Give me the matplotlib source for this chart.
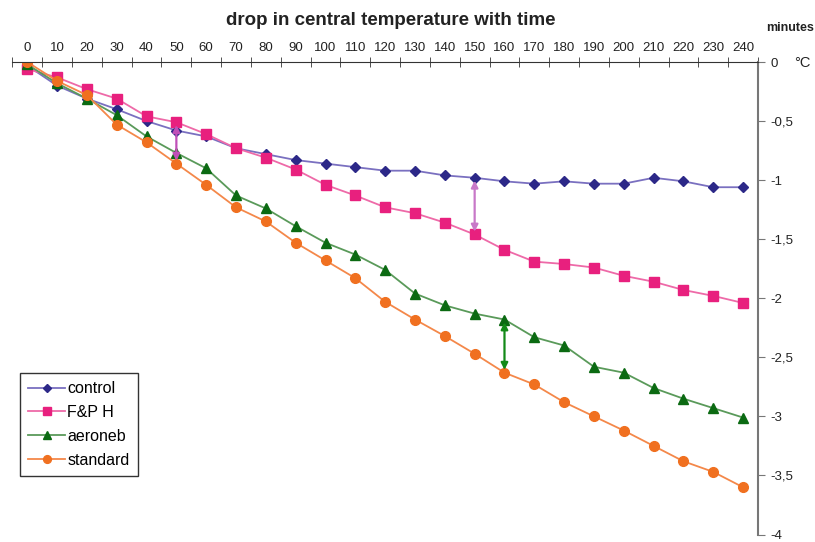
import numpy as np
import matplotlib.pyplot as plt
from matplotlib.ticker import FuncFormatter

plt.rcParams['font.family'] = ['Liberation Sans', 'DejaVu Sans']

minutes = list(range(0, 250, 10))
control = [-0.03, -0.2, -0.31, -0.4, -0.5, -0.58, -0.63, -0.73, -0.78, -0.83, -0.86, -0.89, -0.92,
           -0.92, -0.96, -0.98, -1.01, -1.03, -1.01, -1.03, -1.03, -0.98, -1.01, -1.06, -1.06]
fph = [-0.06, -0.13, -0.23, -0.31, -0.46, -0.51, -0.61, -0.73, -0.81, -0.91, -1.04, -1.13, -1.23,
       -1.28, -1.36, -1.46, -1.59, -1.69, -1.71, -1.74, -1.81, -1.86, -1.93, -1.98, -2.04]
aeroneb = [-0.02, -0.18, -0.31, -0.45, -0.63, -0.77, -0.9, -1.13, -1.24, -1.39, -1.53, -1.63, -1.76,
           -1.96, -2.06, -2.13, -2.18, -2.33, -2.4, -2.58, -2.63, -2.76, -2.85, -2.93, -3.01]
standard = [0.0, -0.16, -0.28, -0.53, -0.68, -0.86, -1.04, -1.23, -1.35, -1.53, -1.68, -1.83, -2.03,
            -2.18, -2.32, -2.47, -2.63, -2.73, -2.88, -3.0, -3.12, -3.25, -3.38, -3.47, -3.6]

series = [
    ("control", control, "D", "#2c2888", "#7a70c0", 5),
    ("F&P H", fph, "s", "#e8207e", "#ee6aa8", 6.5),
    ("aeroneb", aeroneb, "^", "#0b6a12", "#5a9a5a", 6.5),
    ("standard", standard, "o", "#f07020", "#f4884a", 7),
]

fig = plt.figure(figsize=(8.15, 5.42), dpi=100)
ax = fig.add_axes([0.0151, 0.0138, 0.915, 0.8718])

for name, vals, mk, mc, lc, ms in series:
    ax.plot(minutes, vals, color=lc, lw=1.3, marker=mk, markersize=ms,
            markerfacecolor=mc, markeredgecolor=mc, label=name)

# difference arrows
def arrow(i, a, b, color):
    ax.annotate("", xy=(minutes[i], b[i]), xytext=(minutes[i], a[i]),
                arrowprops=dict(arrowstyle="<|-|>", color=color, lw=1.6,
                                mutation_scale=10, shrinkA=2, shrinkB=2))

arrow(5, fph, standard, "#c050b8")
arrow(15, control, fph, "#c878c8")
arrow(16, aeroneb, standard, "#138a18")

ax.set_xlim(-5, 245)
ax.set_ylim(-4, 0)

for s in ["left", "bottom"]:
    ax.spines[s].set_visible(False)
ax.spines["top"].set_color("#333333")
ax.spines["right"].set_color("#777777")
ax.spines["right"].set_linewidth(1.5)

ax.xaxis.tick_top()
ax.set_xticks(minutes)
ax.set_xticks(np.arange(-5, 250, 10), minor=True)
ax.tick_params(axis="x", which="major", length=0, pad=6, labelsize=9.5, labelcolor="#222222")
ax.tick_params(axis="x", which="minor", length=7, direction="inout", color="#333333")

ax.yaxis.tick_right()
ax.set_yticks(np.arange(-4, 0.01, 0.5))
ax.yaxis.set_major_formatter(FuncFormatter(lambda v, p: ("%g" % v).replace(".", ",")))
ax.tick_params(axis="y", length=5, direction="out", color="#777777", labelsize=9.5, pad=4,
               labelcolor="#222222")

fig.text(0.48, 0.963, "drop in central temperature with time", ha="center", va="center",
         fontsize=13.5, fontweight="bold", color="#222222")
fig.text(0.969, 0.948, "minutes", ha="center", va="center", fontsize=9, fontweight="bold",
         color="#222222")
fig.text(0.985, 0.884, "°C", ha="center", va="center", fontsize=10.5, color="#222222")

leg = ax.legend(loc="lower left", bbox_to_anchor=(0.0, 0.108), fancybox=False, framealpha=1,
                edgecolor="#333333", fontsize=11.5, handlelength=2.3, borderpad=0.5,
                labelspacing=0.55, handletextpad=0.15, markerscale=0.8)
leg.get_frame().set_linewidth(1.0)

fig.savefig("out.png", dpi=100)
